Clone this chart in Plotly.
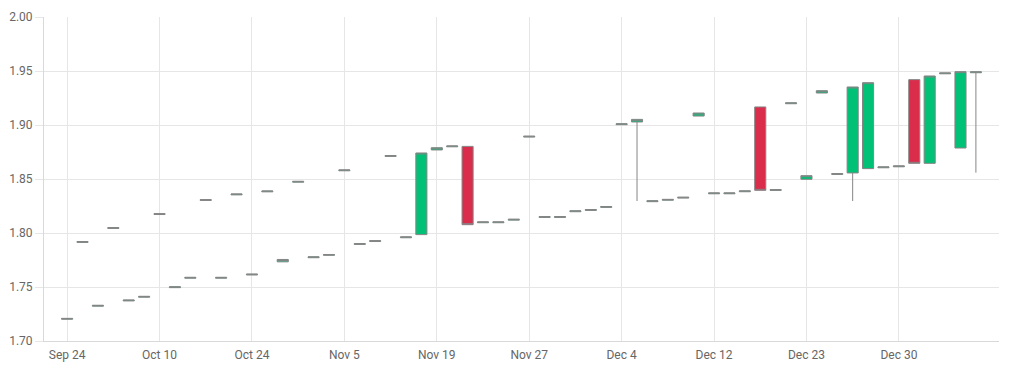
import plotly.graph_objects as go

dates = ["Sep 24", "Sep 26", "Sep 28", "Oct 2", "Oct 4", "Oct 8",
         "Oct 10", "Oct 12", "Oct 15", "Oct 17", "Oct 19", "Oct 22",
         "Oct 24", "Oct 26", "Oct 29", "Oct 31", "Nov 1", "Nov 2",
         "Nov 5", "Nov 7", "Nov 9", "Nov 12", "Nov 14", "Nov 16",
         "Nov 19", "Nov 20", "Nov 21", "Nov 22", "Nov 23", "Nov 26",
         "Nov 27", "Nov 28", "Nov 29", "Nov 30", "Dec 1", "Dec 3",
         "Dec 4", "Dec 5", "Dec 6", "Dec 7", "Dec 10", "Dec 11",
         "Dec 12", "Dec 14", "Dec 17", "Dec 18", "Dec 19", "Dec 21",
         "Dec 23", "Dec 24", "Dec 25", "Dec 26", "Dec 27", "Dec 28",
         "Dec 30", "Dec 31", "Jan 1", "Jan 2", "Jan 3", "Jan 4"]

open_ = [1.7201, 1.7913, 1.7322, 1.8042, 1.7371, 1.7405,
         1.8171, 1.7494, 1.7581, 1.8301, 1.7581, 1.8353,
         1.7611, 1.8381, 1.7733, 1.8470, 1.7771, 1.7793,
         1.8576, 1.7894, 1.7921, 1.8709, 1.7956, 1.7985,
         1.8769, 1.8798, 1.8802, 1.8095, 1.8095, 1.8119,
         1.8888, 1.8144, 1.8144, 1.8197, 1.8209, 1.8237,
         1.9003, 1.9028, 1.8290, 1.8303, 1.8323, 1.9083,
         1.8363, 1.8363, 1.8382, 1.9167, 1.8394, 1.9197,
         1.8497, 1.9296, 1.8542, 1.8556, 1.8596, 1.8604,
         1.8613, 1.9420, 1.8645, 1.9474, 1.8787, 1.9484]

close = [1.7209, 1.7921, 1.7330, 1.8050, 1.7379, 1.7413,
         1.8179, 1.7502, 1.7589, 1.8309, 1.7589, 1.8361,
         1.7619, 1.8389, 1.7755, 1.8478, 1.7779, 1.7801,
         1.8584, 1.7902, 1.7929, 1.8717, 1.7964, 1.8741,
         1.8790, 1.8806, 1.8077, 1.8103, 1.8103, 1.8127,
         1.8896, 1.8152, 1.8152, 1.8205, 1.8217, 1.8245,
         1.9011, 1.9052, 1.8298, 1.8311, 1.8331, 1.9111,
         1.8371, 1.8371, 1.8390, 1.8395, 1.8402, 1.9205,
         1.8531, 1.9318, 1.8550, 1.9352, 1.9392, 1.8612,
         1.8621, 1.8645, 1.9454, 1.9482, 1.9494, 1.9492]

high = [max(o, c) for o, c in zip(open_, close)]

low = [min(o, c) for o, c in zip(open_, close)]
low[37] = 1.8296
low[51] = 1.8296
low[59] = 1.8559

y_ticks = [1.70, 1.75, 1.80, 1.85, 1.90, 1.95, 2.00]

GREEN = "#00c176"
RED = "#d92d4b"
OUTLINE = "#858585"
GRID = "#e6e6e6"
TEXT = "#666666"

fig = go.Figure(go.Candlestick(
    x=dates, open=open_, high=high, low=low, close=close,
    increasing=dict(fillcolor=GREEN, line=dict(color=OUTLINE, width=1)),
    decreasing=dict(fillcolor=RED, line=dict(color=OUTLINE, width=1)),
    whiskerwidth=0,
    showlegend=False,
    hoverinfo="x+y",
))

# the page body adds an 8px margin, so the figure is 8px smaller each way
fig.update_layout(
    width=1016, height=359,
    margin=dict(l=36, r=25, t=9, b=26),
    paper_bgcolor="white", plot_bgcolor="white",
    boxgap=0.28, boxgroupgap=0,
    font=dict(family="Roboto, Liberation Sans, Arial, sans-serif", size=12, color=TEXT),
    xaxis=dict(
        type="category",
        categoryorder="array", categoryarray=dates,
        tickmode="array", tickvals=dates[::6], ticktext=dates[::6],
        range=[-1.5, 60.5],
        automargin=False,
        showgrid=True, gridcolor=GRID, gridwidth=1,
        showline=True, linecolor="#d9d9d9", linewidth=1,
        ticks="outside", ticklen=3, tickcolor="rgba(0,0,0,0)",
        rangeslider=dict(visible=False),
        zeroline=False,
        tickfont=dict(size=12, color=TEXT),
    ),
    yaxis=dict(
        range=[1.70, 2.00],
        tickmode="array", tickvals=y_ticks,
        tickformat=".2f",
        automargin=False,
        showgrid=True, gridcolor=GRID, gridwidth=1,
        showline=True, linecolor="#d9d9d9", linewidth=1,
        ticks="outside", ticklen=8, tickcolor=GRID,
        zeroline=False,
        tickfont=dict(size=12, color=TEXT),
    ),
)

fig.write_html("out.html")
